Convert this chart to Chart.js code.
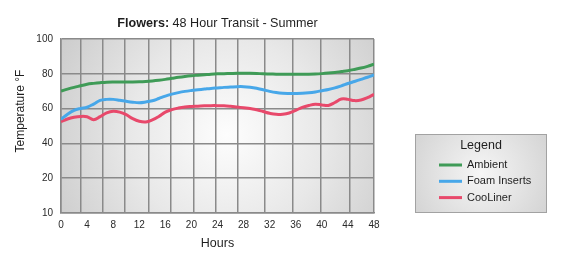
<!DOCTYPE html>
<html>
<head>
<meta charset="utf-8">
<script src="https://cdn.jsdelivr.net/npm/chart.js@4.4.1/dist/chart.umd.min.js"></script>
<style>
  html, body { margin: 0; padding: 0; background: #fff; }
</style>
</head>
<body>
<canvas id="myChart" width="570" height="263"></canvas>
<script>
// dati (una lettura per ogni ora)
const hours = [0,1,2,3,4,5,6,7,8,9,10,11,12,13,14,15,16,17,18,19,20,21,22,23,24,
               25,26,27,28,29,30,31,32,33,34,35,36,37,38,39,40,41,42,43,44,45,46,47,48];

const ambient = [70.1,71.2,72.2,73.1,74.0,74.5,74.9,75.2,75.3,75.3,75.3,75.3,75.4,75.6,75.9,76.3,76.8,
                 77.4,78.0,78.5,78.9,79.2,79.5,79.8,80.0,80.1,80.2,80.3,80.3,80.3,80.2,80.0,79.9,
                 79.8,79.7,79.7,79.7,79.8,79.8,79.9,80.1,80.4,80.8,81.3,81.8,82.5,83.3,84.3,85.5];

const foamInserts = [53.8,56.8,59.0,60.1,60.8,62.6,64.7,65.3,65.3,64.8,64.2,63.7,63.4,63.8,64.5,65.8,67.2,
                     68.3,69.2,69.9,70.4,70.8,71.2,71.6,71.9,72.2,72.4,72.6,72.6,72.3,71.7,70.8,69.9,
                     69.2,68.8,68.7,68.7,68.8,69.1,69.6,70.3,71.0,71.9,73.1,74.4,75.6,76.8,78.0,79.3];

const cooLiner = [52.4,54.0,55.0,55.5,55.3,53.6,55.4,57.5,58.5,58.0,56.5,54.2,52.7,52.3,53.5,55.5,58.0,
                  59.4,60.3,60.9,61.2,61.4,61.6,61.7,61.7,61.6,61.3,60.9,60.5,60.1,59.3,58.3,57.3,
                  56.7,56.8,57.5,59.0,60.7,61.8,62.5,62.1,61.8,63.5,65.5,65.3,64.6,64.9,66.3,68.2];

const seriesNames = ['Ambient', 'Foam Inserts', 'CooLiner'];
const seriesColors = ['#3f9b57', '#47a7e9', '#e8496b'];

// etichette assi
const yTickLabels = ['10', '20', '40', '60', '80', '100'];
// le linee verticali della griglia non coincidono con le etichette (ore)
const gridHours = [0, 3.07, 6.44, 9.81, 13.5, 16.87, 20.4, 23.77, 27.14, 31.28, 35.58, 39.87, 44.32, 48];

const titleBold = 'Flowers:';
const titleRest = ' 48 Hour Transit - Summer';
const yTitle = 'Temperature °F';
const xTitle = 'Hours';
const legendTitle = 'Legend';

const FONT = '"Liberation Sans", Arial, Helvetica, sans-serif';
const GRID = '#8a8a8a';

function toPoints(values) {
    return values.map((v, i) => ({ x: hours[i], y: v }));
}

// sfondo sfumato dell'area del grafico
const backgroundPlugin = {
    id: 'plotBackground',
    beforeDraw(chart) {
        const { ctx, chartArea: a } = chart;
        const cx = a.left + (a.right - a.left) * 0.53;
        const cy = a.top + (a.bottom - a.top) * 0.55;
        const g = ctx.createRadialGradient(cx, cy, 0, cx, cy, 195);
        g.addColorStop(0, '#fdfdfd');
        g.addColorStop(0.5, '#e8e8e8');
        g.addColorStop(1, '#cbcbcb');
        ctx.save();
        ctx.fillStyle = g;
        ctx.fillRect(a.left, a.top, a.right - a.left, a.bottom - a.top);
        ctx.restore();
    }
};

// titolo, titolo asse y e legenda
const textPlugin = {
    id: 'texts',
    afterDraw(chart) {
        const { ctx, chartArea: a } = chart;
        ctx.save();
        ctx.fillStyle = '#1e1e1e';
        ctx.textBaseline = 'middle';

        // titolo con "Flowers:" in grassetto
        ctx.font = 'bold 12.6px ' + FONT;
        const w1 = ctx.measureText(titleBold).width;
        ctx.font = '12.6px ' + FONT;
        const w2 = ctx.measureText(titleRest).width;
        const tx = (a.left + a.right) / 2 - (w1 + w2) / 2;
        ctx.textAlign = 'left';
        ctx.font = 'bold 12.6px ' + FONT;
        ctx.fillText(titleBold, tx, 24);
        ctx.font = '12.6px ' + FONT;
        ctx.fillText(titleRest, tx + w1, 24);

        // titolo asse y (ruotato)
        ctx.save();
        ctx.translate(21, 111);
        ctx.rotate(-Math.PI / 2);
        ctx.textAlign = 'center';
        ctx.font = '12px ' + FONT;
        ctx.fillText(yTitle, 0, 0);
        ctx.restore();

        // legenda
        const lx = 415, ly = 134, lw = 132, lh = 79;
        const g = ctx.createRadialGradient(lx + lw / 2, ly + lh / 2, 0, lx + lw / 2, ly + lh / 2, 80);
        g.addColorStop(0, '#f6f6f6');
        g.addColorStop(1, '#d2d2d2');
        ctx.fillStyle = g;
        ctx.fillRect(lx, ly, lw, lh);
        ctx.strokeStyle = '#a2a2a2';
        ctx.lineWidth = 1;
        ctx.strokeRect(lx + 0.5, ly + 0.5, lw - 1, lh - 1);

        ctx.fillStyle = '#1e1e1e';
        ctx.textAlign = 'center';
        ctx.font = '12.5px ' + FONT;
        ctx.fillText(legendTitle, lx + lw / 2, 146);

        ctx.textAlign = 'left';
        ctx.font = '11px ' + FONT;
        chart.data.datasets.forEach((ds, i) => {
            const y = 165 + i * 16.3;
            ctx.strokeStyle = ds.borderColor;
            ctx.lineWidth = 3;
            ctx.beginPath();
            ctx.moveTo(439, y);
            ctx.lineTo(462, y);
            ctx.stroke();
            ctx.fillStyle = '#1e1e1e';
            ctx.fillText(ds.label, 467, y);
        });
        ctx.restore();
    }
};

const ctx = document.getElementById('myChart').getContext('2d');
const chart = new Chart(ctx, {
    type: 'line',
    data: {
        datasets: [
            { label: seriesNames[0], data: toPoints(ambient), borderColor: seriesColors[0] },
            { label: seriesNames[1], data: toPoints(foamInserts), borderColor: seriesColors[1] },
            { label: seriesNames[2], data: toPoints(cooLiner), borderColor: seriesColors[2] }
        ]
    },
    options: {
        responsive: false,
        animation: false,
        devicePixelRatio: 1,
        layout: { padding: { top: 39, right: 196, left: 0, bottom: 0 } },
        elements: {
            line: { borderWidth: 3, tension: 0.4, fill: false },
            point: { radius: 0 }
        },
        plugins: {
            legend: { display: false },
            title: { display: false },
            tooltip: { enabled: false }
        },
        scales: {
            x: {
                type: 'linear',
                min: 0,
                max: 48,
                afterFit: s => { s.height = 50; },
                afterBuildTicks: s => { s.ticks = hours.filter(h => h % 4 === 0).map(h => ({ value: h })); },
                grid: { display: false, drawTicks: false },
                border: { color: GRID, width: 1.5 },
                ticks: { padding: 6, color: '#2a2a2a', font: { family: FONT, size: 10 }, maxRotation: 0 },
                title: {
                    display: true,
                    text: xTitle,
                    color: '#1e1e1e',
                    font: { family: FONT, size: 12.5 },
                    padding: { top: 0, bottom: 12 }
                }
            },
            xg: {
                type: 'linear',
                position: 'bottom',
                min: 0,
                max: 48,
                afterFit: s => { s.height = 0; },
                afterBuildTicks: s => { s.ticks = gridHours.map(h => ({ value: h })); },
                grid: { color: GRID, lineWidth: 1.5, drawTicks: false },
                border: { display: false },
                ticks: { display: false }
            },
            y: {
                min: 0,
                max: 100,
                afterFit: s => { s.width = 61; },
                afterBuildTicks: s => { s.ticks = [0, 20, 40, 60, 80, 100].map(v => ({ value: v })); },
                grid: { color: GRID, lineWidth: 1.5, drawTicks: false },
                border: { color: GRID, width: 1.5 },
                ticks: {
                    padding: 8,
                    color: '#2a2a2a',
                    font: { family: FONT, size: 10 },
                    callback: (v, i) => yTickLabels[i]
                }
            }
        }
    },
    plugins: [backgroundPlugin, textPlugin]
});
</script>
</body>
</html>
